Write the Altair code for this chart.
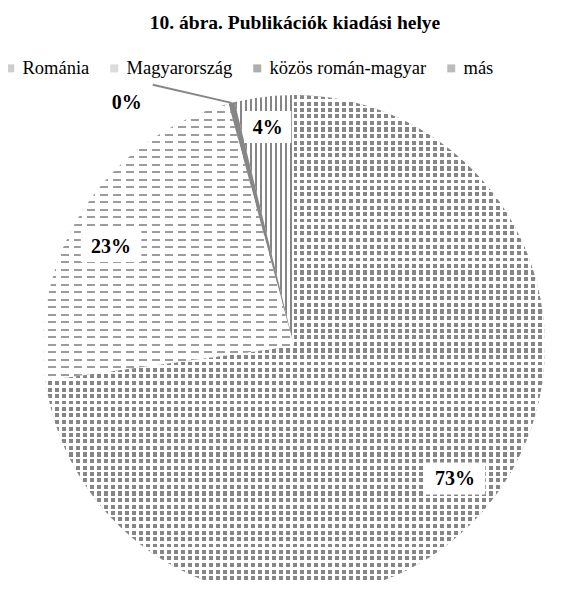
import math
import altair as alt
import pandas as pd

# ---------------- data ----------------
categories = ["Románia", "Magyarország", "közös román-magyar", "más"]
shares = [72.8, 23.0, 0.4, 3.8]
title_text = "10. ábra. Publikációk kiadási helye"

# ---------------- layout / style (not data) ----------------
W, H = 557, 574
CX, CY, R = 286, 338, 251
label_radius = [208.5, 208.5, 296, 220.5]
label_shift_deg = [-1.6, -4.8, -20, 0]
label_boxed = [1, 1, 0, 1]
legend_colors = ["#b8b8b8", "#cccccc", "#8c8c8c", "#a0a0a0"]
GRAY = "#868686"
CLEAR = "rgba(255,255,255,0)"
FONT = "Liberation Serif"


def slice_bbox(i):
    total = sum(shares)
    a0 = sum(shares[:i]) / total * 2 * math.pi
    a1 = a0 + shares[i] / total * 2 * math.pi
    pts = [(0.0, 0.0)]
    angs = [a0, a1] + [k * math.pi / 2 for k in range(5) if a0 < k * math.pi / 2 < a1]
    for a in angs:
        pts.append((R * math.sin(a), -R * math.cos(a)))
    xs = [p[0] for p in pts]
    ys = [p[1] for p in pts]
    return max(xs) - min(xs), max(ys) - min(ys)


def stripes(extent, period, on, on_color, off_color, along_x, phase=0.0):
    stops = []
    k = -1
    while True:
        s = k * period + phase
        if s >= extent:
            break
        for a, b, c in [(s, s + on, on_color), (s + on, s + period, off_color)]:
            a2, b2 = max(a, 0.0), min(b, extent)
            if b2 <= a2:
                continue
            stops.append({"offset": round(a2 / extent, 5), "color": c})
            stops.append({"offset": round(b2 / extent, 5), "color": c})
        k += 1
    return {"gradient": "linear", "x1": 0, "y1": 0,
            "x2": 1 if along_x else 0, "y2": 0 if along_x else 1,
            "stops": stops}


wr, hr = slice_bbox(0)
wh, hh = slice_bbox(1)
wm, hm = slice_bbox(3)

rom_base = stripes(hr, 6.5, 4.0, GRAY, CLEAR, along_x=False)
rom_over = stripes(wr, 7.0, 3.0, "#ffffff", CLEAR, along_x=True)
hu_base = stripes(hh, 7.5, 2.0, "#9c9c9c", CLEAR, along_x=False)
hu_over = stripes(wh, 13.0, 5.0, "#ffffff", CLEAR, along_x=True)
mas_base = stripes(wm, 5.0, 2.5, GRAY, CLEAR, along_x=True)

df = pd.DataFrame({
    "cat": categories,
    "val": shares,
    "idx": list(range(len(categories))),
    "lr": label_radius,
    "ls": label_shift_deg,
    "boxed": label_boxed,
})

arc_enc = dict(
    theta=alt.Theta("val:Q", stack=True),
    order=alt.Order("idx:Q", sort="ascending"),
    x=alt.value(CX),
    y=alt.value(CY),
)

arcs_base = alt.Chart(df).mark_arc(outerRadius=R).encode(
    fill=alt.FillValue(
        value=mas_base,
        condition=[
            {"test": "datum.idx === 0", "value": rom_base},
            {"test": "datum.idx === 1", "value": hu_base},
            {"test": "datum.idx === 2", "value": GRAY},
        ],
    ),
    **arc_enc,
)

arcs_over = alt.Chart(df).mark_arc(outerRadius=R).encode(
    fill=alt.FillValue(
        value=CLEAR,
        condition=[
            {"test": "datum.idx === 0", "value": rom_over},
            {"test": "datum.idx === 1", "value": hu_over},
        ],
    ),
    **arc_enc,
)

legend_layer = alt.Chart(df).mark_square(size=0).encode(
    x=alt.value(0),
    y=alt.value(0),
    color=alt.Color(
        "cat:N",
        sort=categories,
        scale=alt.Scale(domain=categories, range=legend_colors),
        legend=alt.Legend(
            orient="none", legendX=-7, legendY=51, direction="horizontal",
            columns=4, columnPadding=15, title=None, symbolType="square",
            symbolSize=64, symbolStrokeWidth=0, labelFont=FONT,
            labelFontSize=18.5, labelColor="#000000", labelOffset=3,
            labelLimit=0, padding=0,
        ),
    ),
)

lab = alt.Chart(df).transform_window(
    cum="sum(val)", sort=[alt.SortField("idx")], frame=[None, 0]
).transform_joinaggregate(
    total="sum(val)"
).transform_calculate(
    mid="(datum.cum - datum.val/2)/datum.total*2*PI + datum.ls*PI/180"
).transform_calculate(
    lx=f"{CX} + datum.lr*sin(datum.mid)",
    ly=f"{CY} - datum.lr*cos(datum.mid)",
    txt="format(datum.val/datum.total, '.0%')",
)

boxes = lab.transform_filter("datum.boxed == 1").transform_calculate(
    bw="20 + 13.5*length(datum.txt)"
).transform_calculate(
    bx1="datum.lx - datum.bw/2", bx2="datum.lx + datum.bw/2",
    by1="datum.ly - 16", by2="datum.ly + 16",
).mark_rect(fill="white").encode(
    x=alt.X("bx1:Q", scale=None, axis=None), x2="bx2:Q",
    y=alt.Y("by1:Q", scale=None, axis=None), y2="by2:Q",
)

leader = lab.transform_filter("datum.idx == 2").transform_calculate(
    ex=f"{CX} + {R}*sin((datum.cum - datum.val/2)/datum.total*2*PI)",
    ey=f"{CY} - {R}*cos((datum.cum - datum.val/2)/datum.total*2*PI)",
    sx="datum.lx + 26", sy="datum.ly - 17",
).mark_rule(stroke=GRAY, strokeWidth=2).encode(
    x=alt.X("sx:Q", scale=None, axis=None), x2="ex:Q",
    y=alt.Y("sy:Q", scale=None, axis=None), y2="ey:Q",
)

labels = lab.mark_text(
    font=FONT, fontWeight="bold", fontSize=20, baseline="alphabetic",
    align="center", dy=7, color="#000000",
).encode(
    x=alt.X("lx:Q", scale=None, axis=None),
    y=alt.Y("ly:Q", scale=None, axis=None),
    text="txt:N",
)

title = alt.Chart(alt.Data(values=[{"t": title_text}])).mark_text(
    font=FONT, fontWeight="bold", fontSize=19.5, baseline="middle",
    align="center", color="#000000",
).encode(x=alt.value(287), y=alt.value(15), text="t:N")

chart = alt.layer(
    arcs_base, arcs_over, legend_layer, boxes, leader, labels, title
).properties(
    width=W, height=H, autosize="none", padding=0
).configure_view(stroke=None)

chart.save("out.html", embed_options={"renderer": "svg", "actions": False})
